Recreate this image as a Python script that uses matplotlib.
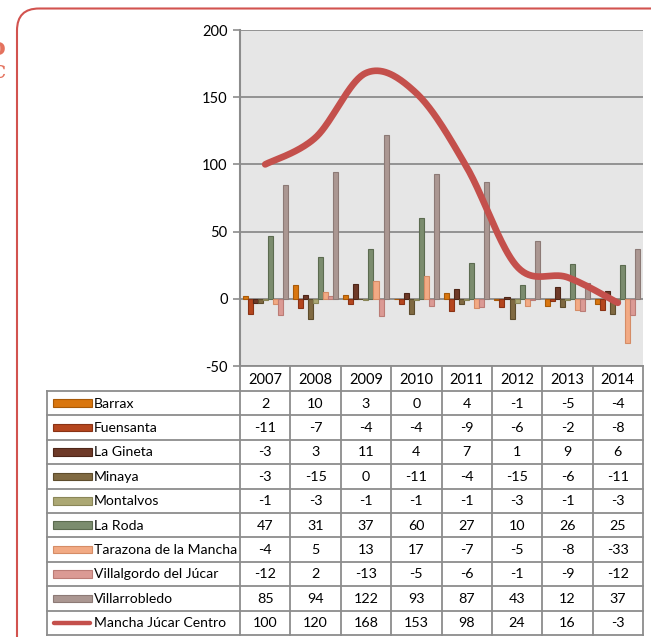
import matplotlib
matplotlib.use('Agg')
import matplotlib.pyplot as plt
import numpy as np
from matplotlib.patches import FancyBboxPatch, Rectangle

plt.rcParams['font.family'] = ['Lato', 'DejaVu Sans']

years = ['2007', '2008', '2009', '2010', '2011', '2012', '2013', '2014']
series_names = ['Barrax', 'Fuensanta', 'La Gineta', 'Minaya', 'Montalvos', 'La Roda',
                'Tarazona de la Mancha', 'Villalgordo del Júcar', 'Villarrobledo']
barrax = [2, 10, 3, 0, 4, -1, -5, -4]
fuensanta = [-11, -7, -4, -4, -9, -6, -2, -8]
la_gineta = [-3, 3, 11, 4, 7, 1, 9, 6]
minaya = [-3, -15, 0, -11, -4, -15, -6, -11]
montalvos = [-1, -3, -1, -1, -1, -3, -1, -3]
la_roda = [47, 31, 37, 60, 27, 10, 26, 25]
tarazona = [-4, 5, 13, 17, -7, -5, -8, -33]
villalgordo = [-12, 2, -13, -5, -6, -1, -9, -12]
villarrobledo = [85, 94, 122, 93, 87, 43, 12, 37]
line_name = 'Mancha Júcar Centro'
mancha = [100, 120, 168, 153, 98, 24, 16, -3]
yticks = [-50, 0, 50, 100, 150, 200]

series = [barrax, fuensanta, la_gineta, minaya, montalvos, la_roda, tarazona, villalgordo, villarrobledo]
colors = ['#D9760F', '#B5461E', '#6E3A28', '#806A42', '#ACA874', '#7B8C6E', '#F2AA84', '#DB9A94', '#AB9792']
edges = ['#A85A08', '#8A3315', '#4E2618', '#5E4D2D', '#8A8658', '#5C6B50', '#D58C66', '#BB7C76', '#8C7A76']
line_color = '#C4504C'

W, H = 651, 637
fig = plt.figure(figsize=(W / 100, H / 100), dpi=100)
fig.patch.set_facecolor('white')

L, R, T, B = 240, 643, 30, 366
ax = fig.add_axes([L / W, 1 - B / H, (R - L) / W, (B - T) / H])
ax.set_facecolor('#E6E6E6')
ax.set_xlim(-0.5, len(years) - 0.5)
ax.set_ylim(-50, 200)
ax.set_yticks(yticks)
ax.set_yticklabels([str(v) for v in yticks])
ax.set_xticks([])
ax.yaxis.grid(True, color='#8C8C8C', lw=1.3)
ax.set_axisbelow(True)
for s in ['top', 'right', 'bottom']:
    ax.spines[s].set_visible(False)
ax.spines['left'].set_color('#8C8C8C')
ax.spines['left'].set_linewidth(1.5)
ax.tick_params(axis='y', direction='out', length=5, width=1.2, color='#8C8C8C',
               labelsize=10.5, pad=4)

x = np.arange(len(years))
bw = 0.1
for j, (vals, c, e) in enumerate(zip(series, colors, edges)):
    ax.bar(x + (j - 4) * bw, vals, width=bw, color=c, edgecolor=e, lw=0.8, zorder=2)

# Excel-like smoothed line (Catmull-Rom / Bezier)
def smooth(xs, ys, n=40):
    P = np.column_stack([xs, ys]).astype(float)
    P = np.vstack([P[0], P, P[-1]])
    out = []
    for i in range(1, len(P) - 2):
        p0, p1, p2, p3 = P[i - 1], P[i], P[i + 1], P[i + 2]
        c1 = p1 + (p2 - p0) / 6.0
        c2 = p2 - (p3 - p1) / 6.0
        t = np.linspace(0, 1, n)[:, None]
        seg = ((1 - t) ** 3) * p1 + 3 * ((1 - t) ** 2) * t * c1 + 3 * (1 - t) * t ** 2 * c2 + t ** 3 * p2
        out.append(seg if i == 1 else seg[1:])
    return np.vstack(out)

curve = smooth(x, mancha)
ax.plot(curve[:, 0], curve[:, 1], color=line_color, lw=4.8, solid_capstyle='round',
        solid_joinstyle='round', zorder=4)

# overlay for table and frame
tax = fig.add_axes([0, 0, 1, 1])
tax.set_xlim(0, W)
tax.set_ylim(H, 0)
tax.axis('off')
tax.patch.set_alpha(0)

frame = FancyBboxPatch((17, 8.5), 800, 800, boxstyle='round,pad=0,rounding_size=22',
                       fill=False, edgecolor='#D2534F', lw=1.5)
tax.add_patch(frame)
tax.text(5.5, 48, 'o', ha='right', va='center', color='#E4725E', fontsize=17,
         fontweight='bold', family='DejaVu Serif')
tax.text(5.5, 71, 'c', ha='right', va='center', color='#E4725E', fontsize=17,
         family='DejaVu Serif')

gc = '#8C8C8C'
col_edges = np.linspace(L, R, len(years) + 1)
head_top, head_bot = B, 391
row_h = (635 - head_bot) / 10.0
tab_left = 47
tab_bot = head_bot + 10 * row_h

for cx in col_edges:
    tax.plot([cx, cx], [head_top, tab_bot], color=gc, lw=1.3)
tax.plot([tab_left, tab_left], [head_bot, tab_bot], color=gc, lw=1.3)
tax.plot([L, R], [head_top, head_top], color=gc, lw=1.3)
for i in range(11):
    yy = head_bot + i * row_h
    tax.plot([tab_left, R], [yy, yy], color=gc, lw=1.3)

centers = (col_edges[:-1] + col_edges[1:]) / 2
for cxx, yr in zip(centers, years):
    tax.text(cxx, (head_top + head_bot) / 2 + 1, yr, ha='center', va='center', fontsize=10.5)

all_rows = series + [mancha]
all_names = series_names + [line_name]
for i, (name, vals) in enumerate(zip(all_names, all_rows)):
    yc = head_bot + (i + 0.5) * row_h
    if i < len(series):
        tax.add_patch(Rectangle((53, yc - 3.8), 39, 7.6, facecolor=colors[i],
                                edgecolor=edges[i], lw=0.8))
    else:
        tax.plot([54, 90], [yc, yc], color=line_color, lw=3.2, solid_capstyle='round')
    tax.text(93.5, yc + 0.5, name, ha='left', va='center', fontsize=10.1)
    for cxx, v in zip(centers, vals):
        tax.text(cxx, yc + 0.5, str(v), ha='center', va='center', fontsize=10.3)

fig.savefig('out.png', dpi=100, facecolor='white')
